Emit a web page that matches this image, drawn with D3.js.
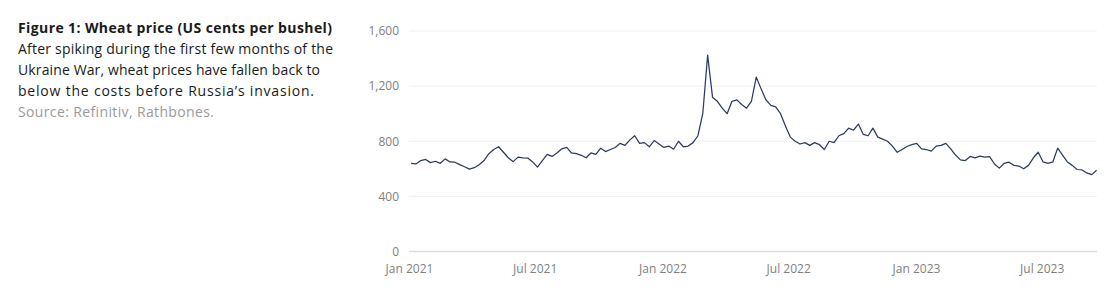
<!DOCTYPE html>
<html>
<head>
<meta charset="utf-8">
<script src="https://cdn.jsdelivr.net/npm/d3@7"></script>
<style>
  body { margin: 0; background: #fff; }
  svg { display: block; }
  text { font-family: "Open Sans", Lato, sans-serif; }
</style>
</head>
<body>
<div id="container"></div>
<script>
// weekly closes, first week starting 4 Jan 2021
const firstWeek = "2021-01-04";
const price = [
  640, 635, 660, 668, 645, 655, 640, 672, 650, 648,
  630, 615, 598, 608, 630, 660, 710, 740, 760, 720,
  680, 652, 685, 680, 678, 650, 612, 660, 705, 690,
  715, 745, 755, 715, 710, 698, 680, 715, 705, 750,
  725, 740, 755, 785, 770, 810, 840, 785, 790, 760,
  805, 780, 755, 765, 742, 800, 760, 765, 790, 840,
  1000, 1425, 1120, 1090, 1040, 1000, 1090, 1100, 1067, 1040,
  1090, 1265, 1180, 1100, 1060, 1050, 1000, 910, 830, 800,
  780, 790, 770, 790, 775, 740, 800, 790, 840, 855,
  895, 880, 925, 850, 840, 895, 830, 815, 800, 765,
  720, 740, 762, 775, 785, 745, 740, 728, 765, 770,
  785, 745, 700, 665, 660, 690, 680, 692, 685, 688,
  635, 605, 640, 648, 625, 620, 600, 625, 680, 720,
  650, 640, 650, 750, 700, 650, 625, 595, 592, 570,
  558, 590
];
const yTicks = [0, 400, 800, 1200, 1600];
const xTicks = ["2021-01-01", "2021-07-01", "2022-01-01", "2022-07-01", "2023-01-01", "2023-07-01"];
const titleText = "Figure 1: Wheat price (US cents per bushel)";
const noteLines = [
  "After spiking during the first few months of the",
  "Ukraine War, wheat prices have fallen back to",
  "below the costs before Russia\u2019s invasion."
];
const sourceText = "Source: Refinitiv, Rathbones.";

const width = 1119, height = 299;
const parse = d3.timeParse("%Y-%m-%d");
const start = parse(firstWeek);
const data = price.map((v, i) => ({ date: d3.timeWeek.offset(start, i), value: v }));

const svg = d3.select("#container").append("svg")
  .attr("width", width)
  .attr("height", height);

// squeeze/stretch a text to a wanted width with letter-spacing
function fitWidth(sel, w) {
  const n = sel.text().length;
  const cur = sel.node().getComputedTextLength();
  sel.attr("letter-spacing", ((w - cur) / (n - 1)).toFixed(3));
}

// text block on the left
const note = svg.append("g").attr("class", "note");
note.append("text")
  .attr("x", 18).attr("y", 33)
  .attr("font-size", 14).attr("font-weight", 700).attr("fill", "#1a1a1a")
  .text(titleText)
  .call(fitWidth, 314);
const noteW = [315, 302, 296];
noteLines.forEach((t, i) => {
  note.append("text")
    .attr("x", 18).attr("y", 54 + i * 20.8)
    .attr("font-size", 14).attr("fill", "#1a1a1a")
    .text(t)
    .call(fitWidth, noteW[i]);
});
note.append("text")
  .attr("x", 18).attr("y", 116.5)
  .attr("font-size", 14).attr("fill", "#9a9a9a")
  .text(sourceText)
  .call(fitWidth, 196);

// chart
const x = d3.scaleTime()
  .domain([parse("2021-01-01"), parse("2023-01-01")])
  .range([409, 916]);
const y = d3.scaleLinear().domain([0, 1600]).range([251.5, 31]);

const gridG = svg.append("g");
gridG.selectAll("line")
  .data(yTicks)
  .join("line")
  .attr("x1", 409).attr("x2", 1097)
  .attr("y1", d => y(d)).attr("y2", d => y(d))
  .attr("stroke", d => d === 0 ? "#dcdcdc" : "#f1f1f1")
  .attr("stroke-width", d => d === 0 ? 1.6 : 1);

const yAxis = svg.append("g")
  .attr("transform", "translate(399,0)")
  .call(d3.axisLeft(y).tickValues(yTicks).tickSize(0).tickPadding(0).tickFormat(d3.format(",")));
yAxis.select(".domain").remove();
yAxis.selectAll("text")
  .attr("font-family", "'Open Sans', sans-serif").attr("font-size", 12).attr("fill", "#808080");

const xAxis = svg.append("g")
  .attr("transform", "translate(0,264.5)")
  .call(d3.axisBottom(x).tickValues(xTicks.map(parse)).tickSize(0).tickPadding(0).tickFormat(d3.timeFormat("%b %Y")));
xAxis.select(".domain").remove();
xAxis.selectAll("text")
  .attr("font-family", "'Open Sans', sans-serif").attr("font-size", 12).attr("fill", "#808080");

const line = d3.line()
  .x(d => x(d.date))
  .y(d => y(d.value));

svg.append("path")
  .datum(data)
  .attr("fill", "none")
  .attr("stroke", "#2c3b66")
  .attr("stroke-width", 1.25)
  .attr("stroke-linejoin", "round")
  .attr("d", line);
</script>
</body>
</html>
